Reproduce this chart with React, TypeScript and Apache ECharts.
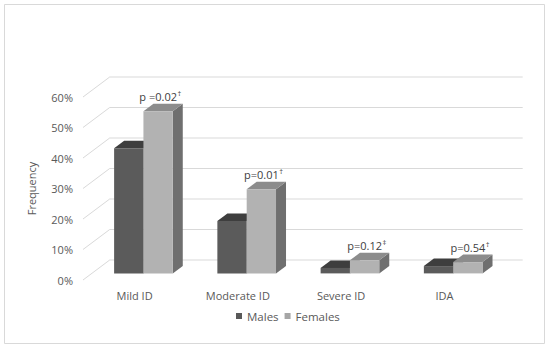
import React, { useEffect, useRef } from "react";
import * as echarts from "echarts";

const categories = ["Mild ID", "Moderate ID", "Severe ID", "IDA"];
const males = [0.41, 0.172, 0.018, 0.024];
const females = [0.532, 0.276, 0.043, 0.037];
const pLabels = ["p =0.02", "p=0.01", "p=0.12", "p=0.54"];
const pMarks = ["\u2020", "\u2020", "\u2021", "\u2020"];
const yTicks = [0, 0.1, 0.2, 0.3, 0.4, 0.5, 0.6];

const FONT = "'Open Sans', 'Noto Sans', sans-serif";
const DX = 26.7;
const DY = 20;
const F0 = 0.33;
const BD = 0.375;

const COLORS = {
  m: { front: "#5b5b5b", top: "#3e3e3e", side: "#474747", legend: "#595959" },
  f: { front: "#b2b2b2", top: "#8c8c8c", side: "#6f6f6f", legend: "#a6a6a6" },
};

let measureCtx: CanvasRenderingContext2D | null = null;
function textWidth(s: string, size: number) {
  if (!measureCtx) measureCtx = document.createElement("canvas").getContext("2d");
  if (!measureCtx) return s.length * size * 0.55;
  measureCtx.font = `${size}px ${FONT}`;
  return measureCtx.measureText(s).width;
}

function makeBarRender(kind: "m" | "f") {
  return (params: any, api: any) => {
    const i = api.value(0);
    const v = api.value(1);
    const p = api.coord([i, v]);
    const p0 = api.coord([i, 0]);
    const catW = api.size([1, 0])[0];
    const bw = catW * 0.284;
    const sx = F0 * DX;
    const sy = F0 * DY;
    const bdx = BD * DX;
    const bdy = BD * DY;
    const cx = p[0];
    const xL = kind === "m" ? cx + sx - bw : cx + sx;
    const xR = xL + bw;
    const yT = p[1] - sy;
    const yB = p0[1] - sy;
    const c = COLORS[kind];
    const children: any[] = [
      {
        type: "polygon",
        shape: { points: [[xR, yT], [xR + bdx, yT - bdy], [xR + bdx, yB - bdy], [xR, yB]] },
        style: { fill: c.side },
      },
      {
        type: "polygon",
        shape: { points: [[xL, yT], [xR, yT], [xR + bdx, yT - bdy], [xL + bdx, yT - bdy]] },
        style: { fill: c.top },
      },
      {
        type: "rect",
        shape: { x: xL, y: yT, width: bw, height: yB - yT },
        style: { fill: c.front },
      },
    ];
    if (kind === "f") {
      const main = pLabels[i];
      const wMain = textWidth(main, 11);
      const wMark = textWidth(pMarks[i], 7.5);
      const total = wMain + wMark;
      const left = (xL + xR) / 2 + 2 - total / 2;
      const baseY = yT - bdy - 2;
      children.push({
        type: "text",
        x: left,
        y: baseY,
        style: {
          text: main,
          align: "left",
          verticalAlign: "bottom",
          fill: "#404040",
          font: `11px ${FONT}`,
        },
      });
      children.push({
        type: "text",
        x: left + wMain + 0.5,
        y: baseY - 4.5,
        style: {
          text: pMarks[i],
          align: "left",
          verticalAlign: "bottom",
          fill: "#404040",
          font: `7.5px ${FONT}`,
        },
      });
    }
    return { type: "group", children };
  };
}

function renderWall(params: any, api: any) {
  const v = api.value(1);
  const y = api.coord([0, v])[1];
  const cs = params.coordSys;
  const x0 = cs.x;
  const x1 = cs.x + cs.width;
  return {
    type: "polyline",
    shape: { points: [[x0, y], [x0 + DX, y - DY], [x1 + DX, y - DY]] },
    style: { stroke: "#d9d9d9", lineWidth: 1, fill: "none" },
  };
}

export default function App() {
  const ref = useRef<HTMLDivElement>(null);
  useEffect(() => {
    if (!ref.current) return;
    const chart = echarts.init(ref.current, null, { renderer: "svg" });
    chart.setOption({
      animation: false,
      backgroundColor: "#ffffff",
      grid: { left: 83, right: 54, top: 97, bottom: 67, containLabel: false },
      graphic: [
        {
          type: "rect",
          silent: true,
          shape: { x: 4.5, y: 4.5, width: 540, height: 339 },
          style: { fill: "none", stroke: "#d9d9d9", lineWidth: 1 },
        },
      ],
      legend: {
        data: ["Males", "Females"],
        left: 236,
        top: 310,
        padding: 0,
        icon: "rect",
        itemWidth: 6,
        itemHeight: 6,
        itemGap: 6,
        selectedMode: false,
        textStyle: { color: "#595959", fontSize: 11.5, fontFamily: FONT },
      },
      xAxis: {
        type: "category",
        data: categories,
        axisLine: { show: false },
        axisTick: { show: false },
        splitLine: { show: false },
        axisLabel: { color: "#595959", fontSize: 11, fontFamily: FONT, margin: 10 },
      },
      yAxis: {
        type: "value",
        min: 0,
        max: 0.6,
        interval: 0.1,
        name: "Frequency",
        nameLocation: "middle",
        nameRotate: 90,
        nameGap: 46,
        nameTextStyle: { color: "#595959", fontSize: 11, fontFamily: FONT },
        axisLine: { show: false },
        axisTick: { show: false },
        splitLine: { show: false },
        axisLabel: {
          color: "#595959",
          fontSize: 11,
          fontFamily: FONT,
          margin: 10,
          formatter: (v: number) => Math.round(v * 100) + "%",
        },
      },
      series: [
        {
          type: "custom",
          name: "wall",
          silent: true,
          z: 1,
          renderItem: renderWall,
          data: yTicks.map((t) => [0, t]),
          encode: { x: 0, y: 1 },
        },
        {
          type: "custom",
          name: "Males",
          z: 2,
          itemStyle: { color: COLORS.m.legend },
          renderItem: makeBarRender("m"),
          data: males.map((v, i) => [i, v]),
          encode: { x: 0, y: 1 },
        },
        {
          type: "custom",
          name: "Females",
          z: 3,
          itemStyle: { color: COLORS.f.legend },
          renderItem: makeBarRender("f"),
          data: females.map((v, i) => [i, v]),
          encode: { x: 0, y: 1 },
        },
      ],
    });
    return () => chart.dispose();
  }, []);
  return (
    <div
      ref={ref}
      style={{ position: "fixed", left: 0, top: 0, width: 550, height: 347, background: "#fff" }}
    />
  );
}
